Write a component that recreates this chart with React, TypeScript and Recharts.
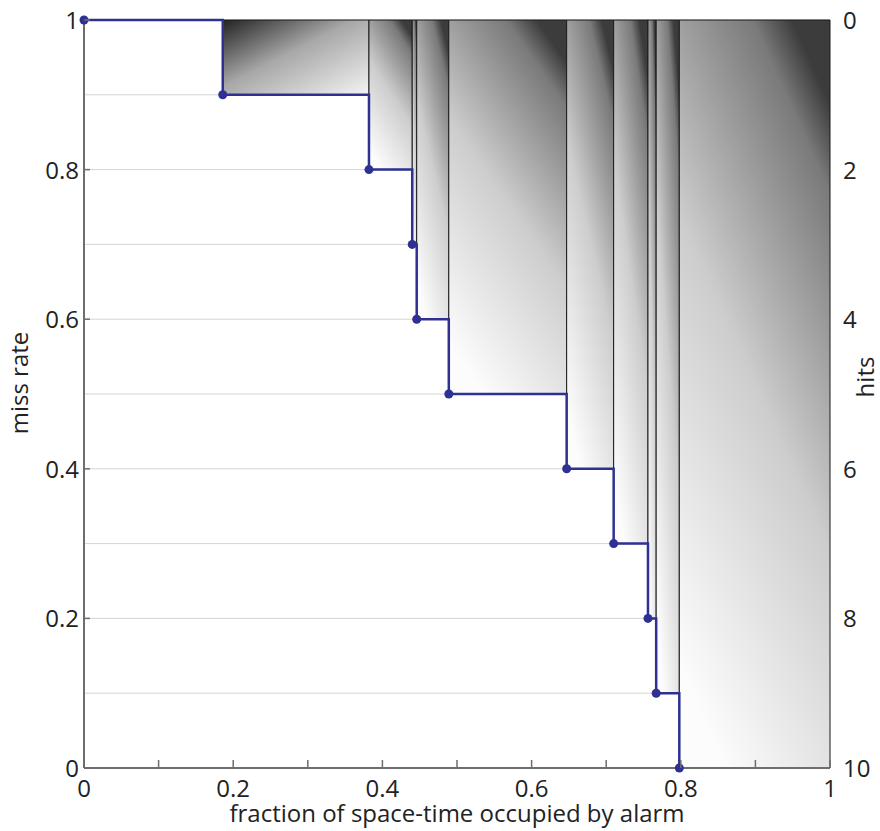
import React from "react";
import {
  ComposedChart,
  Line,
  XAxis,
  YAxis,
  CartesianGrid,
  ReferenceArea,
} from "recharts";

// alarm fraction at which each extra hit is picked up
const alarmFraction = [0, 0.186, 0.382, 0.44, 0.446, 0.489, 0.647, 0.71, 0.756, 0.767, 0.798];
const missRate = [1, 0.9, 0.8, 0.7, 0.6, 0.5, 0.4, 0.3, 0.2, 0.1, 0];

const xTicks = [0, 0.1, 0.2, 0.3, 0.4, 0.5, 0.6, 0.7, 0.8, 0.9, 1];
const missGrid = [0, 0.1, 0.2, 0.3, 0.4, 0.5, 0.6, 0.7, 0.8, 0.9, 1];
const hitTicks = [0, 2, 4, 6, 8, 10];

const BLUE = "#2e3192";
const AXIS = "#6e6e6e";
const FONT = "'Open Sans', sans-serif";

const points = alarmFraction.map((x, i) => ({ x, miss: missRate[i] }));

// shaded blocks above the curve, one per step
const blocks = alarmFraction.slice(1).map((x, i) => ({
  x1: x,
  x2: alarmFraction[i + 2] ?? 1,
  y1: missRate[i + 1],
}));

const fmt = (v: number) => (v === 0 ? "0" : v === 1 ? "1" : v.toFixed(1));
const isMajor = (v: number) => Math.round(v * 10) % 2 === 0;

function XTick({ x, y, payload }: any) {
  const v = payload.value as number;
  return (
    <g>
      <line x1={x} x2={x} y1={y} y2={y - 8} stroke={AXIS} strokeWidth={1.5} />
      {isMajor(v) && (
        <text x={x} y={y + 29} textAnchor="middle" fontSize={24} fontFamily={FONT} fill="#222">
          {fmt(v)}
        </text>
      )}
    </g>
  );
}

function MissTick({ x, y, payload }: any) {
  const v = payload.value as number;
  if (!isMajor(v)) return null;
  return (
    <g>
      <line x1={x} x2={x + 6} y1={y} y2={y} stroke={AXIS} strokeWidth={1.5} />
      <text x={x - 5} y={y + 9} textAnchor="end" fontSize={24} fontFamily={FONT} fill="#222">
        {fmt(v)}
      </text>
    </g>
  );
}

function HitTick({ x, y, payload }: any) {
  return (
    <text x={x + 13} y={y + 9} textAnchor="start" fontSize={24} fontFamily={FONT} fill="#222">
      {payload.value}
    </text>
  );
}

export default function App() {
  return (
    <div style={{ position: "absolute", left: 0, top: 0, background: "#fff" }}>
      <ComposedChart
        width={880}
        height={831}
        data={points}
        margin={{ top: 20, right: 0, left: 0, bottom: 0 }}
      >
        <defs>
          <linearGradient id="shadeL" x1="0" y1="0" x2="1" y2="1">
            <stop offset="0" stopColor="#222" />
            <stop offset="0.45" stopColor="#a8a8a8" />
            <stop offset="1" stopColor="#f4f4f4" />
          </linearGradient>
          <linearGradient id="shadeR" x1="0.75" y1="0" x2="0.3" y2="1">
            <stop offset="0" stopColor="#3c3c3c" />
            <stop offset="0.1" stopColor="#7a7a7a" />
            <stop offset="0.5" stopColor="#cdcdcd" />
            <stop offset="1" stopColor="#fcfcfc" />
          </linearGradient>
        </defs>
        <CartesianGrid
          yAxisId="left"
          vertical={false}
          stroke="#d4d4d4"
          strokeWidth={1}
        />
        <XAxis
          dataKey="x"
          type="number"
          domain={[0, 1]}
          ticks={xTicks}
          height={63}
          tickSize={0}
          tickMargin={0}
          tickLine={false}
          axisLine={{ stroke: AXIS, strokeWidth: 2 }}
          tick={<XTick />}
          interval={0}
          label={{
            content: () => (
              <text x={457} y={822} textAnchor="middle" fontSize={24} fontFamily={FONT} fill="#222">
                fraction of space-time occupied by alarm
              </text>
            ),
          }}
        />
        <YAxis
          yAxisId="left"
          type="number"
          domain={[0, 1]}
          ticks={missGrid}
          width={84}
          tickSize={0}
          tickMargin={0}
          tickLine={false}
          axisLine={{ stroke: AXIS, strokeWidth: 2 }}
          tick={<MissTick />}
          interval={0}
          label={{
            content: () => (
              <text
                x={28}
                y={383}
                transform="rotate(-90 28 383)"
                textAnchor="middle"
                fontSize={24}
                fontFamily={FONT}
                fill="#222"
              >
                miss rate
              </text>
            ),
          }}
        />
        <YAxis
          yAxisId="right"
          orientation="right"
          type="number"
          domain={[0, 10]}
          allowDataOverflow
          reversed
          ticks={hitTicks}
          width={50}
          tickSize={0}
          tickMargin={0}
          tickLine={false}
          axisLine={false}
          tick={<HitTick />}
          interval={0}
          label={{
            content: () => (
              <text
                x={874}
                y={377}
                transform="rotate(-90 874 377)"
                textAnchor="middle"
                fontSize={24}
                fontFamily={FONT}
                fill="#222"
              >
                hits
              </text>
            ),
          }}
        />
        {blocks.map((b, i) => (
          <ReferenceArea
            key={i}
            yAxisId="left"
            x1={b.x1}
            x2={b.x2}
            y1={b.y1}
            y2={1}
            fill={i === 0 ? "url(#shadeL)" : "url(#shadeR)"}
            fillOpacity={1}
            stroke="#1a1a1a"
            strokeWidth={1}
          />
        ))}
        <Line
          yAxisId="left"
          dataKey="miss"
          type="stepAfter"
          stroke={BLUE}
          strokeWidth={2.5}
          dot={{ r: 4.5, fill: BLUE, stroke: BLUE, strokeWidth: 0 }}
          isAnimationActive={false}
        />
      </ComposedChart>
    </div>
  );
}
